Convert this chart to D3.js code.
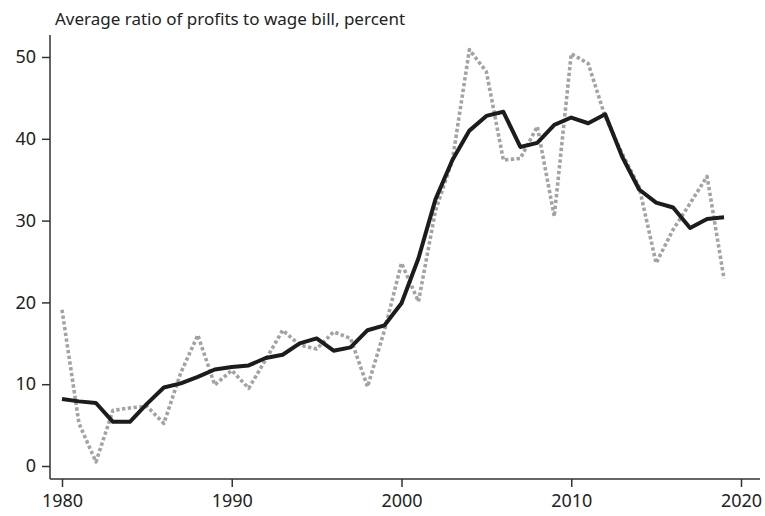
<!DOCTYPE html>
<html>
<head>
<meta charset="utf-8">
<script src="https://cdn.jsdelivr.net/npm/d3@7"></script>
<style>
  body { margin: 0; background: #fff; }
  svg { display: block; font-family: "Noto Sans", "Open Sans", sans-serif; }
</style>
</head>
<body>
<svg id="chart" width="765" height="516"></svg>
<script>
// years 1980-2019
var years = d3.range(1980, 2020);
// smoothed series (solid black)
var smoothed = [8.2, 7.9, 7.7, 5.4, 5.4, 7.6, 9.6, 10.1, 10.9, 11.8,
                12.1, 12.3, 13.2, 13.6, 15.0, 15.6, 14.1, 14.5, 16.6, 17.2,
                19.9, 25.4, 32.6, 37.4, 41.0, 42.8, 43.3, 39.0, 39.5, 41.7,
                42.6, 41.9, 43.0, 37.8, 33.8, 32.2, 31.6, 29.1, 30.2, 30.4];
// annual series (dotted grey)
var annual = [19.1, 5.2, 0.5, 6.8, 7.1, 7.3, 5.2, 11.4, 16.0, 9.9,
              11.7, 9.5, 13.0, 16.6, 14.8, 14.3, 16.4, 15.6, 9.7, 16.6,
              24.8, 20.1, 31.2, 37.4, 50.9, 48.2, 37.4, 37.6, 41.5, 30.5,
              50.4, 49.2, 42.7, 38.2, 34.1, 24.8, 28.9, 32.1, 35.4, 22.9];
var yTicks = [0, 10, 20, 30, 40, 50];
var xTicks = [1980, 1990, 2000, 2010, 2020];

var svg = d3.select('#chart');
var x = d3.scaleLinear().domain([1980, 2020]).range([62, 741]);
var y = d3.scaleLinear().domain([0, 50]).range([466, 57]);

var axisColor = '#333';

//axis frame lines
svg.append('line').attr('x1', 50).attr('x2', 50).attr('y1', 35).attr('y2', 479)
    .attr('stroke', axisColor).attr('stroke-width', 1.5);
svg.append('line').attr('x1', 50).attr('x2', 760).attr('y1', 479).attr('y2', 479)
    .attr('stroke', axisColor).attr('stroke-width', 1.5);

var yAxis = svg.append('g').attr('transform', 'translate(50,0)')
    .call(d3.axisLeft(y).tickValues(yTicks).tickSize(8).tickPadding(6));
var xAxis = svg.append('g').attr('transform', 'translate(0,479)')
    .call(d3.axisBottom(x).tickValues(xTicks).tickFormat(d3.format('d')).tickSize(8).tickPadding(7));

[yAxis, xAxis].forEach(function (g) {
    g.select('.domain').remove();
    g.selectAll('.tick line').attr('stroke', axisColor).attr('stroke-width', 1.5);
    g.selectAll('.tick text').attr('fill', '#222').style('font-size', '18px')
        .style('font-family', '"Noto Sans", sans-serif');
});

//annual dotted line
var dotted = d3.line()
    .x(function (d, i) { return x(years[i]); })
    .y(function (d) { return y(d); });
svg.append('path').datum(annual)
    .attr('d', dotted)
    .attr('fill', 'none')
    .attr('stroke', '#a3a3a3')
    .attr('stroke-width', 3.6)
    .attr('stroke-linejoin', 'round')
    .attr('stroke-dasharray', '3.4,2.4');

//smoothed solid line
var solid = d3.line()
    .x(function (d, i) { return x(years[i]); })
    .y(function (d) { return y(d); });
svg.append('path').datum(smoothed)
    .attr('d', solid)
    .attr('fill', 'none')
    .attr('stroke', '#1c1c1c')
    .attr('stroke-width', 4)
    .attr('stroke-linejoin', 'round');

//title
svg.append('text')
    .attr('x', 55).attr('y', 25)
    .attr('fill', '#222')
    .style('font-size', '17px')
    .text('Average ratio of profits to wage bill, percent');
</script>
</body>
</html>
